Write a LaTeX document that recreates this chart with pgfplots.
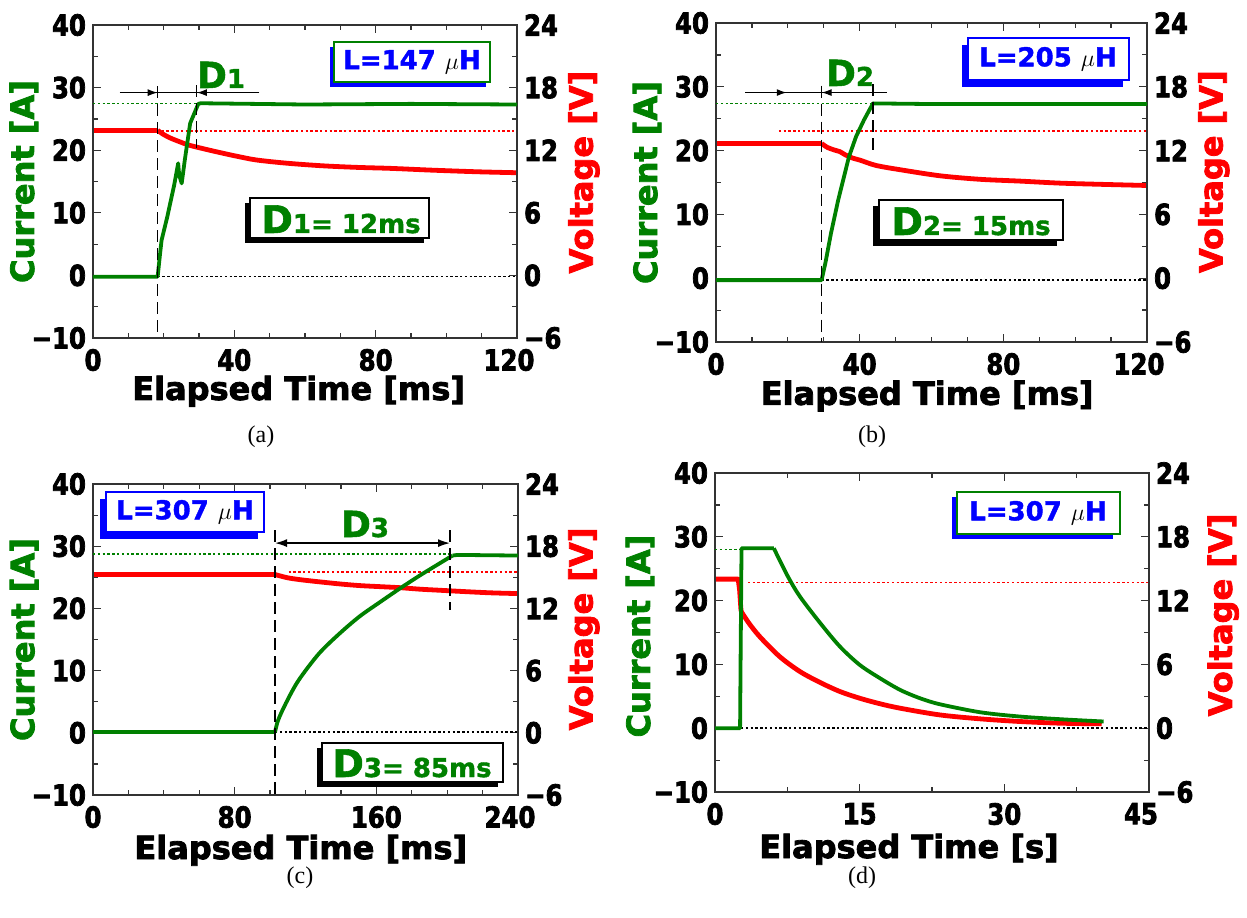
\documentclass[border=0pt]{standalone}
\usepackage{pgfplots}
\pgfplotsset{compat=1.18}
\usepackage{fontspec}
\setmainfont{Liberation Sans}
\newfontfamily\labfont{DejaVu Sans}[FakeBold=2.5]
\newfontfamily\boxfont{DejaVu Sans}[FakeBold=1.5]
\newfontfamily\tickfam{DejaVu Sans}[FakeStretch=0.84, FakeBold=2.5]
\newfontfamily\capfont{Liberation Serif}
\usetikzlibrary{arrows.meta}
\definecolor{cgreen}{RGB}{0,128,0}
\definecolor{cred}{RGB}{255,0,0}
\definecolor{cblue}{RGB}{0,0,255}

\newcommand{\tickfont}{\tickfam\bfseries\fontsize{14.5}{14.5}\selectfont}
\newcommand{\labfnt}{\labfont\bfseries\fontsize{16}{16}\selectfont}
\newcommand{\Lfnt}{\boxfont\bfseries\fontsize{13}{13}\selectfont}
\newcommand{\lastlab}[1]{\kern-8pt #1}

\pgfplotsset{
  base/.style={
    scale only axis, anchor=south west,
    axis line style={line width=0.6pt, black!80},
    every tick/.style={line width=0.6pt, black!80},
    tick align=inside,
    major tick length=4pt, minor tick length=2.5pt,
    ticklabel style={font=\tickfont},
    label style={font=\labfnt},
  },
  cur/.style={base,
    ymin=-10, ymax=40, ytick={-10,0,10,20,30,40},
    yticklabels={−10,0,10,20,30,40},
    minor y tick num=1, ytick pos=left,
    xticklabel style={yshift=-2pt},
    ylabel={\color{cgreen}Current [A]},
    ylabel style={anchor=center},
    xlabel style={anchor=base},
  },
  volt/.style={base,
    ymin=-6, ymax=24, ytick={-6,0,6,12,18,24},
    yticklabels={−6,0,6,12,18,24},
    minor y tick num=1,
    axis y line*=right, axis x line=none,
    ylabel={\color{cred}Voltage [V]},
    ylabel style={anchor=center},
  },
  cline/.style={cgreen, line width=1.9pt, line join=round},
  vline/.style={cred, line width=2.4pt, line join=round},
  gdot/.style={cgreen, line width=0.8pt, dash pattern=on 1.2pt off 1.2pt},
  rdot/.style={cred, line width=0.8pt, dash pattern=on 1.2pt off 1.2pt},
  kdot/.style={black, line width=0.8pt, dash pattern=on 1.2pt off 1.2pt},
}
\tikzset{
  vdash/.style={black, line width=0.6pt, dash pattern=on 6pt off 3pt},
  arr/.style={black, line width=0.6pt},
  ah/.style={-{Latex[length=5pt,width=3.5pt]}, black, line width=0.6pt},
}
\newcommand{\Dbox}[1]{\boxfont\bfseries\fontsize{19}{19}\selectfont D\fontsize{13}{13}\selectfont #1}

\begin{document}
\begin{tikzpicture}
\useasboundingbox (0,0) rectangle (623.5pt,458.5pt);

% ---------------- (a) ----------------
\begin{axis}[volt, at={(46.5pt,289.5pt)}, width=212pt, height=156.5pt,
  xmin=0, xmax=120,
  ylabel style={at={(axis description cs:1.158,0.53)}}]
\addplot[rdot] coordinates {(19.4,13.85)(120,13.85)};
\addplot[vline] coordinates {(0,13.9)(18.3,13.9)};
\addplot[vline, smooth] coordinates {(18.3,13.9)(20,13.5)(22,13.15)(24.6,12.8)(27,12.5)(29.3,12.3)(33,12.0)(36.9,11.7)(41,11.4)(46.3,11.06)(55,10.75)(65.2,10.5)(75,10.35)(84.1,10.26)(95,10.1)(102.9,10.0)(110,9.92)(120,9.84)};
\end{axis}
\begin{axis}[cur, at={(46.5pt,289.5pt)}, width=212pt, height=156.5pt,
  xmin=0, xmax=120, xtick={0,40,80,120}, xticklabels={0,40,80,\lastlab{120}}, minor x tick num=3,
  xlabel={Elapsed Time [ms]},
  xlabel style={at={(axis description cs:0.485,-0.198)}},
  ylabel style={at={(axis description cs:-0.163,0.5)}}]
\addplot[gdot] coordinates {(0,27.45)(30,27.45)};
\addplot[kdot] coordinates {(18.3,-0.2)(120,-0.2)};
\addplot[cline] coordinates {(0,-0.2)(18.3,-0.2)(18.8,2.5)(19.4,5.6)(21,9.3)(23,14.5)(24.1,17.9)(24.4,16)(25.1,14.7)(26,18.5)(27.5,24.3)(29.8,27.4)(30.5,27.5)(60,27.3)(90,27.4)(120,27.3)};
\draw[vdash] (axis cs:18.3,30.2) -- (axis cs:18.3,-10);
\draw[vdash] (axis cs:29.4,30.4) -- (axis cs:29.4,20.3);
\draw[arr] (axis cs:7.6,29.2) -- (axis cs:47.1,29.2);
\draw[ah] (axis cs:7.6,29.2) -- (axis cs:18.3,29.2);
\draw[ah] (axis cs:47.1,29.2) -- (axis cs:29.4,29.2);
\end{axis}

% ---------------- (b) ----------------
\begin{axis}[volt, at={(358pt,287.5pt)}, width=215.5pt, height=159.5pt,
  xmin=0, xmax=120,
  ylabel style={at={(axis description cs:1.155,0.534)}}]
\addplot[rdot] coordinates {(17.5,13.84)(120,13.84)};
\addplot[vline] coordinates {(0,12.67)(29.4,12.67)};
\addplot[vline, smooth] coordinates {(29.4,12.67)(31,12.3)(33,12.05)(34.5,11.9)(36,11.6)(38,11.3)(40.1,11.1)(44.6,10.6)(51.3,10.2)(62.4,9.63)(73.5,9.3)(84.7,9.13)(95.8,8.94)(108,8.82)(120,8.72)};
\end{axis}
\begin{axis}[cur, at={(358pt,287.5pt)}, width=215.5pt, height=159.5pt,
  xmin=0, xmax=120, xtick={0,40,80,120}, xticklabels={0,40,80,\lastlab{120}}, minor x tick num=3,
  xlabel={Elapsed Time [ms]},
  xlabel style={at={(axis description cs:0.49,-0.197)}},
  ylabel style={at={(axis description cs:-0.160,0.5)}}]
\addplot[gdot] coordinates {(0,27.4)(43.7,27.4)};
\addplot[kdot] coordinates {(29.4,-0.3)(120,-0.3)};
\addplot[cline] coordinates {(0,-0.3)(29.4,-0.3)(30.5,2.5)(32,7)(34,12.2)(37,19)(39,22.2)(41.2,24.8)(43.7,27.4)(60,27.3)(90,27.3)(120,27.3)};
\draw[vdash] (axis cs:29.4,30.2) -- (axis cs:29.4,-10);
\draw[vdash] (axis cs:43.7,30.4) -- (axis cs:43.7,19.8);
\draw[arr] (axis cs:8.1,29.1) -- (axis cs:47.5,29.1);
\draw[ah] (axis cs:8.1,29.1) -- (axis cs:19.7,29.1);
\draw[ah] (axis cs:47.5,29.1) -- (axis cs:29.4,29.1);
\end{axis}

% ---------------- (c) ----------------
\begin{axis}[volt, at={(46.5pt,61pt)}, width=212.5pt, height=155.5pt,
  xmin=0, xmax=240,
  ylabel style={at={(axis description cs:1.155,0.534)}}]
\addplot[rdot] coordinates {(110.5,15.5)(240,15.5)};
\addplot[vline] coordinates {(0,15.27)(102.8,15.27)};
\addplot[vline, smooth] coordinates {(102.8,15.27)(110,14.95)(118,14.75)(128,14.56)(140,14.35)(150.7,14.2)(162,14.1)(173.3,14.0)(185,13.85)(195.9,13.75)(210,13.62)(225,13.5)(240,13.43)};
\end{axis}
\begin{axis}[cur, at={(46.5pt,61pt)}, width=212.5pt, height=155.5pt,
  xmin=0, xmax=240, xtick={0,80,160,240}, xticklabels={0,80,160,\lastlab{240}}, minor x tick num=3,
  xlabel={Elapsed Time [ms]},
  xlabel style={at={(axis description cs:0.489,-0.206)}},
  ylabel style={at={(axis description cs:-0.162,0.5)}}]
\addplot[gdot] coordinates {(0,28.7)(201.6,28.7)};
\addplot[kdot] coordinates {(102.8,0.1)(240,0.1)};
\addplot[cline] coordinates {(0,0.1)(102.8,0.1)};
\addplot[cline, smooth] coordinates {(102.8,0.1)(104.5,2.0)(109,4.8)(116,8.4)(127.5,12.7)(139,15.9)(150.5,18.7)(162,21.0)(173.3,23.2)(184.6,25.3)(195.5,27.2)(203,28.5)};
\addplot[cline] coordinates {(203,28.5)(206,28.6)(240,28.5)};
\draw[vdash] (axis cs:102.8,32.6) -- (axis cs:102.8,-10);
\draw[vdash] (axis cs:201.6,32.6) -- (axis cs:201.6,19.7);
\draw[{Latex[length=6pt,width=4pt]}-{Latex[length=6pt,width=4pt]}, line width=0.7pt] (axis cs:102.8,30.5) -- (axis cs:201.6,30.5);
\end{axis}

% ---------------- (d) ----------------
\begin{axis}[volt, at={(357.5pt,62.5pt)}, width=217pt, height=159.5pt,
  xmin=0, xmax=45,
  ylabel style={at={(axis description cs:1.171,0.555)}}]
\addplot[rdot] coordinates {(3.4,13.7)(45,13.7)};
\addplot[vline] coordinates {(0,14.02)(2.4,14.02)(2.55,13.0)(2.7,11.0)};
\addplot[vline, smooth] coordinates {(2.7,11.0)(3.5,9.9)(4.65,8.6)(6.7,6.74)(8.8,5.33)(10.9,4.3)(12.95,3.45)(15.0,2.82)(17.1,2.3)(19.2,1.88)(23.3,1.25)(27.5,0.88)(31.6,0.63)(35.8,0.47)(40.1,0.41)};
\end{axis}
\begin{axis}[cur, at={(357.5pt,62.5pt)}, width=217pt, height=159.5pt,
  xmin=0, xmax=45, xtick={0,15,30,45}, xticklabels={0,15,30,\lastlab{45}}, minor x tick num=1,
  xlabel={Elapsed Time [s]},
  xlabel style={at={(axis description cs:0.447,-0.207)}},
  ylabel style={at={(axis description cs:-0.173,0.489)}}]
\addplot[gdot] coordinates {(0,28.0)(2.7,28.0)};
\addplot[kdot] coordinates {(2.7,0)(45,0)};
\addplot[cline] coordinates {(0,0)(2.6,0)(2.65,10)(2.75,28.2)(6.1,28.2)};
\addplot[cline, smooth] coordinates {(6.1,28.2)(7.55,23.8)(8.8,20.65)(10.9,16.5)(12.95,12.8)(15.0,9.93)(17.1,7.84)(19.2,6.0)(21.25,4.7)(23.3,3.76)(27.5,2.5)(31.6,1.83)(35.8,1.41)(40.3,1.05)};
\end{axis}

% ---------------- annotations (pixel coordinates) ----------------
\begin{scope}[x=0.5pt, y=-0.5pt, yshift=458.5pt]
% (a)
\fill[cblue] (330,47) rectangle (486,87);
\filldraw[fill=white, draw=cgreen, line width=0.6pt] (334,42) rectangle (490,82);
\node[font=\Lfnt] at (412,62) {\color{cblue}L=147 \color{black}$\mu$\color{cblue}H};
\fill[black] (245,203.5) rectangle (424,243.5);
\filldraw[fill=white, draw=black, line width=0.6pt] (250,198) rectangle (429,238);
\node[text=cgreen, anchor=base] at (341,233) {\Dbox{1= 12ms}};
\node[text=cgreen, anchor=base] at (221,88) {\boxfont\bfseries\fontsize{18}{18}\selectfont D\fontsize{13}{13}\selectfont 1};
% (b)
\fill[cblue] (962,45) rectangle (1123,87);
\filldraw[fill=white, draw=cblue, line width=0.6pt] (968,38) rectangle (1129,80);
\node[font=\Lfnt] at (1048,59) {\color{cblue}L=205 \color{black}$\mu$\color{cblue}H};
\fill[black] (873,206) rectangle (1057,246);
\filldraw[fill=white, draw=black, line width=0.6pt] (879,200) rectangle (1063,240);
\node[text=cgreen, anchor=base] at (971,235) {\Dbox{2= 15ms}};
\node[text=cgreen, anchor=base] at (850,86) {\boxfont\bfseries\fontsize{18}{18}\selectfont D\fontsize{13}{13}\selectfont 2};
% (c)
\fill[cblue] (100,499) rectangle (258,539);
\filldraw[fill=white, draw=cblue, line width=0.6pt] (106,492) rectangle (264,532);
\node[font=\Lfnt] at (185,512) {\color{cblue}L=307 \color{black}$\mu$\color{cblue}H};
\fill[black] (317,748) rectangle (498,787);
\filldraw[fill=white, draw=black, line width=0.6pt] (322,743) rectangle (503,782);
\node[text=cgreen, anchor=base] at (412,777) {\Dbox{3= 85ms}};
\node[text=cgreen, anchor=base] at (365,537) {\boxfont\bfseries\fontsize{18}{18}\selectfont D\fontsize{13}{13}\selectfont 3};
% (d)
\fill[cblue] (952,497) rectangle (1113,539);
\filldraw[fill=white, draw=cgreen, line width=0.6pt] (957,492) rectangle (1120,534);
\node[font=\Lfnt] at (1038,513) {\color{cblue}L=307 \color{black}$\mu$\color{cblue}H};
% captions
\node[font=\capfont\fontsize{12}{12}\selectfont] at (261,437) {(a)};
\node[font=\capfont\fontsize{12}{12}\selectfont] at (872,437) {(b)};
\node[font=\capfont\fontsize{12}{12}\selectfont] at (300,878) {(c)};
\node[font=\capfont\fontsize{12}{12}\selectfont] at (862,878) {(d)};
\end{scope}
\end{tikzpicture}
\end{document}
